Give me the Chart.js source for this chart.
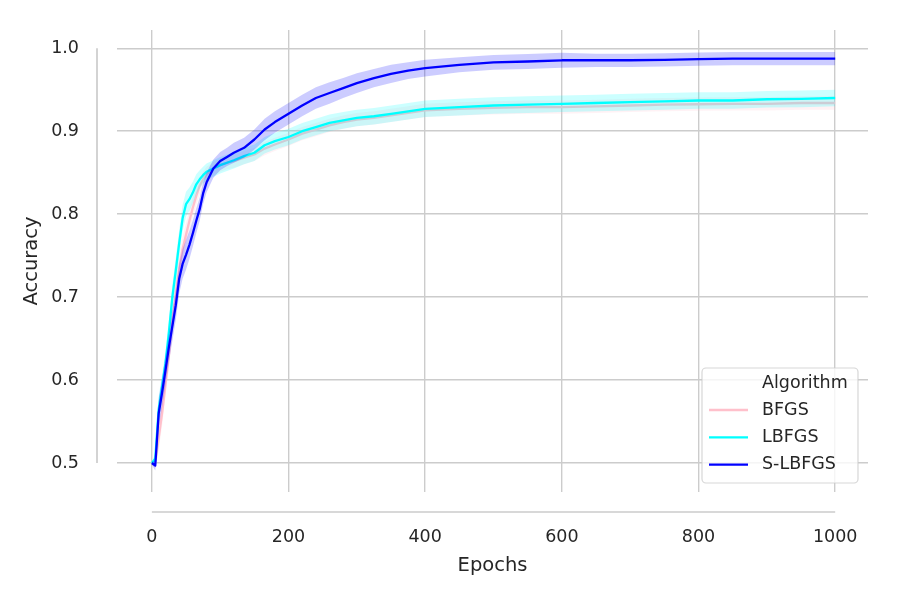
<!DOCTYPE html>
<html>
<head>
<meta charset="utf-8">
<script src="https://cdn.jsdelivr.net/npm/chart.js@4.4.0/dist/chart.umd.min.js"></script>
<style>
  html, body { margin: 0; padding: 0; background: #ffffff; }
  #wrap { width: 900px; height: 600px; }
</style>
</head>
<body>
<div id="wrap"><canvas id="myChart" width="900" height="600"></canvas></div>
<script>
const epochs = [0, 5, 10, 15, 20, 25, 30, 35, 40, 45, 50, 55, 60, 65, 70, 75, 80, 90, 100, 110, 120, 135, 150, 165, 180,
    200, 220, 240, 260, 280, 300, 325, 350, 375, 400, 450, 500, 550, 600, 650, 700, 750, 800, 850, 900, 950, 1000];

const bfgs = [0.500, 0.500, 0.530, 0.560, 0.595, 0.630, 0.670, 0.705, 0.735, 0.758, 0.775, 0.792, 0.808, 0.822, 0.834, 0.842, 0.848, 0.855, 0.859, 0.862, 0.864, 0.868, 0.872, 0.879, 0.884,
    0.890, 0.897, 0.902, 0.907, 0.911, 0.914, 0.916, 0.919, 0.922, 0.925, 0.927, 0.928, 0.929, 0.929, 0.930, 0.931, 0.932, 0.9325, 0.933, 0.933, 0.934, 0.934];
const lbfgs = [0.500, 0.505, 0.565, 0.592, 0.620, 0.658, 0.700, 0.732, 0.765, 0.795, 0.812, 0.818, 0.826, 0.836, 0.842, 0.847, 0.851, 0.855, 0.859, 0.862, 0.865, 0.870, 0.874, 0.883, 0.888,
    0.893, 0.900, 0.905, 0.910, 0.913, 0.916, 0.918, 0.921, 0.924, 0.927, 0.929, 0.931, 0.932, 0.933, 0.934, 0.935, 0.936, 0.937, 0.937, 0.9385, 0.939, 0.940];
const slbfgs = [0.500, 0.497, 0.560, 0.585, 0.612, 0.640, 0.665, 0.690, 0.722, 0.740, 0.751, 0.763, 0.777, 0.792, 0.806, 0.825, 0.838, 0.855, 0.864, 0.869, 0.874, 0.880, 0.890, 0.902, 0.911,
    0.921, 0.931, 0.940, 0.946, 0.952, 0.958, 0.964, 0.969, 0.973, 0.976, 0.980, 0.983, 0.984, 0.9855, 0.9855, 0.9855, 0.986, 0.987, 0.9875, 0.9875, 0.9875, 0.9875];

// half width of the shaded band around each mean
const bfgsSpread = [0.002, 0.006, 0.015, 0.015, 0.015, 0.015, 0.015, 0.015, 0.015, 0.015, 0.014, 0.013, 0.012, 0.011, 0.010, 0.009, 0.009, 0.008, 0.008, 0.008, 0.008, 0.008, 0.008, 0.008, 0.008,
    0.008, 0.008, 0.008, 0.008, 0.008, 0.008, 0.008, 0.008, 0.008, 0.008, 0.008, 0.008, 0.008, 0.008, 0.008, 0.008, 0.008, 0.008, 0.008, 0.008, 0.008, 0.008];
const lbfgsSpread = [0.002, 0.006, 0.015, 0.015, 0.015, 0.015, 0.015, 0.015, 0.016, 0.016, 0.015, 0.014, 0.013, 0.012, 0.011, 0.010, 0.010, 0.010, 0.010, 0.010, 0.010, 0.010, 0.010, 0.010, 0.010,
    0.010, 0.010, 0.010, 0.010, 0.010, 0.010, 0.010, 0.010, 0.010, 0.010, 0.010, 0.010, 0.010, 0.010, 0.010, 0.010, 0.010, 0.010, 0.010, 0.010, 0.010, 0.010];
const slbfgsSpread = [0.002, 0.006, 0.018, 0.018, 0.018, 0.018, 0.018, 0.018, 0.018, 0.018, 0.018, 0.017, 0.016, 0.015, 0.014, 0.013, 0.012, 0.011, 0.011, 0.011, 0.012, 0.012, 0.012, 0.013, 0.013,
    0.013, 0.013, 0.013, 0.013, 0.012, 0.012, 0.011, 0.011, 0.010, 0.010, 0.009, 0.009, 0.009, 0.009, 0.008, 0.008, 0.008, 0.008, 0.008, 0.008, 0.008, 0.008];

const xTicks = [0, 200, 400, 600, 800, 1000];
const yTicks = [0.5, 0.6, 0.7, 0.8, 0.9, 1.0];

const legendTitle = 'Algorithm';
const series = [
    { name: 'BFGS', color: '#ffc0cb', band: 'rgba(255, 192, 203, 0.2)', mean: bfgs, spread: bfgsSpread },
    { name: 'LBFGS', color: '#00ffff', band: 'rgba(0, 255, 255, 0.2)', mean: lbfgs, spread: lbfgsSpread },
    { name: 'S-LBFGS', color: '#0000ff', band: 'rgba(0, 0, 255, 0.2)', mean: slbfgs, spread: slbfgsSpread },
];

const textColor = '#262626';
const gridColor = '#cccccc';
const fontFamily = "'DejaVu Sans', sans-serif";
const tickSize = 17.5;
const labelSize = 19.5;

const datasets = [];
series.forEach((s, i) => {
    const z = (series.length - i) * 2;
    datasets.push({
        label: s.name + ' low',
        data: epochs.map((e, k) => ({ x: e, y: s.mean[k] - s.spread[k] })),
        borderWidth: 0, pointRadius: 0, fill: false, order: z,
    });
    datasets.push({
        label: s.name + ' high',
        data: epochs.map((e, k) => ({ x: e, y: s.mean[k] + s.spread[k] })),
        borderWidth: 0, pointRadius: 0, fill: '-1', backgroundColor: s.band, order: z,
    });
    datasets.push({
        label: s.name,
        data: epochs.map((e, k) => ({ x: e, y: s.mean[k] })),
        borderColor: s.color, borderWidth: 2.3, pointRadius: 0, fill: false, order: z - 1,
        borderJoinStyle: 'round',
    });
});

// offset spines, seaborn despine(offset=...) look
const spines = {
    id: 'spines',
    afterDraw(chart) {
        const { ctx, chartArea, scales } = chart;
        ctx.save();
        ctx.strokeStyle = gridColor;
        ctx.lineWidth = 1.7;
        ctx.beginPath();
        const sx = chartArea.left - 20;
        ctx.moveTo(sx, scales.y.getPixelForValue(yTicks[0]));
        ctx.lineTo(sx, scales.y.getPixelForValue(yTicks[yTicks.length - 1]));
        const sy = chartArea.bottom + 20;
        ctx.moveTo(scales.x.getPixelForValue(xTicks[0]), sy);
        ctx.lineTo(scales.x.getPixelForValue(xTicks[xTicks.length - 1]), sy);
        ctx.stroke();
        ctx.restore();
    }
};

const boxLegend = {
    id: 'boxLegend',
    afterDraw(chart) {
        const { ctx, chartArea } = chart;
        const w = 156, h = 115;
        const x0 = chartArea.right - 10 - w;
        const y0 = chartArea.bottom - 9 - h;
        ctx.save();
        ctx.beginPath();
        ctx.roundRect(x0, y0, w, h, 4);
        ctx.fillStyle = 'rgba(255, 255, 255, 0.8)';
        ctx.fill();
        ctx.strokeStyle = 'rgba(204, 204, 204, 0.8)';
        ctx.lineWidth = 1.2;
        ctx.stroke();

        ctx.font = tickSize + 'px ' + fontFamily;
        ctx.fillStyle = textColor;
        ctx.textBaseline = 'middle';
        ctx.textAlign = 'left';
        const tx = x0 + 60;
        ctx.fillText(legendTitle, tx, y0 + 15);
        series.forEach((s, i) => {
            const yy = y0 + 42 + i * 27.3;
            ctx.strokeStyle = s.color;
            ctx.lineWidth = 2.3;
            ctx.beginPath();
            ctx.moveTo(x0 + 7, yy);
            ctx.lineTo(x0 + 46, yy);
            ctx.stroke();
            ctx.fillStyle = textColor;
            ctx.fillText(s.name, tx, yy);
        });
        ctx.restore();
    }
};

const config = {
    type: 'line',
    data: { datasets: datasets },
    options: {
        responsive: false,
        animation: false,
        layout: { padding: { left: 0, right: 32, top: 30, bottom: 0 } },
        scales: {
            x: {
                type: 'linear', min: -51, max: 1048,
                afterBuildTicks: s => { s.ticks = xTicks.map(v => ({ value: v })); },
                afterFit: s => { s.height = 108; s.paddingLeft = 0; s.paddingRight = 0; },
                grid: { color: gridColor, lineWidth: 1.4, drawTicks: false },
                border: { display: false },
                ticks: {
                    padding: 35, color: textColor, maxRotation: 0, autoSkip: false,
                    font: { family: fontFamily, size: tickSize },
                    callback: v => String(v),
                },
                title: {
                    display: true, text: 'Epochs', color: textColor,
                    font: { family: fontFamily, size: labelSize },
                    padding: { top: 0, bottom: 22 },
                },
            },
            y: {
                type: 'linear', min: 0.465, max: 1.022,
                afterBuildTicks: s => { s.ticks = yTicks.map(v => ({ value: v })); },
                afterFit: s => { s.width = 117; s.paddingTop = 0; s.paddingBottom = 0; },
                grid: { color: gridColor, lineWidth: 1.4, drawTicks: false },
                border: { display: false },
                ticks: {
                    padding: 38, color: textColor, autoSkip: false,
                    font: { family: fontFamily, size: tickSize },
                    callback: v => v.toFixed(1),
                },
                title: {
                    display: true, text: 'Accuracy', color: textColor,
                    font: { family: fontFamily, size: labelSize },
                    padding: { top: 20, bottom: 0 },
                },
            },
        },
        plugins: {
            legend: { display: false },
            tooltip: { enabled: false },
        },
    },
    plugins: [spines, boxLegend],
};

const chart = new Chart(document.getElementById('myChart').getContext('2d'), config);
</script>
</body>
</html>
